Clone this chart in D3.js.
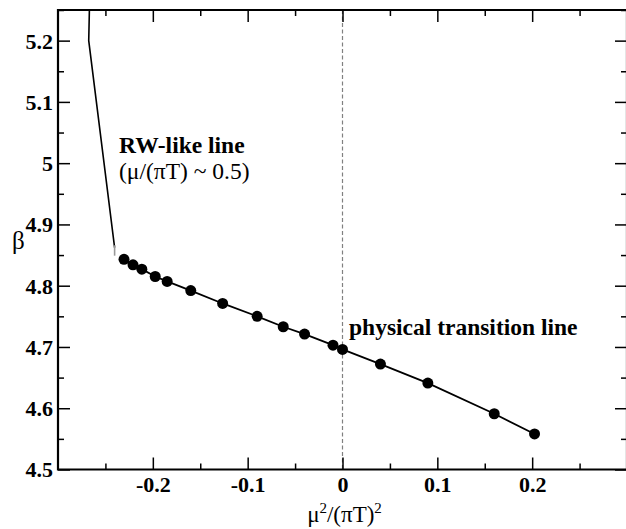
<!DOCTYPE html>
<html>
<head>
<meta charset="utf-8">
<script src="https://cdn.jsdelivr.net/npm/d3@7"></script>
</head>
<body style="margin:0;padding:0;background:#fff">
<svg id="chart" width="626" height="529" style="display:block"></svg>
<script>
// Transition line points: mu^2/(pi T)^2 and beta
const muSq = [-0.2304, -0.2209, -0.2116, -0.1975, -0.1849, -0.16, -0.1264, -0.09,
              -0.0625, -0.04, -0.01, 0, 0.04, 0.09, 0.16, 0.2025];
const betaVals = [4.843, 4.834, 4.827, 4.815, 4.807, 4.792, 4.771, 4.750,
                  4.733, 4.721, 4.703, 4.696, 4.672, 4.641, 4.591, 4.558];

// Roberge-Weiss-like line
const rwX = [-0.2669, -0.2676, -0.2403];
const rwBeta = [5.25, 5.2, 4.862];
const rwEndX = [-0.2403, -0.2403];
const rwEndBeta = [4.866, 4.849];

const xTickVals = [-0.2, -0.1, 0, 0.1, 0.2];
const xTickLabels = ["-0.2", "-0.1", "0", "0.1", "0.2"];
const yTickVals = [4.5, 4.6, 4.7, 4.8, 4.9, 5.0, 5.1, 5.2];
const yTickLabels = ["4.5", "4.6", "4.7", "4.8", "4.9", "5", "5.1", "5.2"];

const FONT = "serif";
const svg = d3.select("#chart");
const pLeft = 58, pRight = 627, pTop = 10, pBottom = 469.5;

const x = d3.scaleLinear().domain([-0.3, 0.3]).range([pLeft, pRight]);
const y = d3.scaleLinear().domain([4.5, 5.25]).range([pBottom, pTop]);

const xMinor = d3.range(-0.25, 0.3, 0.1).map(v => +v.toFixed(2));
const yMinor = d3.range(4.55, 5.25, 0.1).map(v => +v.toFixed(2));

// zero line
svg.append("line")
  .attr("x1", x(0)).attr("x2", x(0))
  .attr("y1", pTop).attr("y2", pBottom)
  .attr("stroke", "#808080").attr("stroke-width", 1.2)
  .attr("stroke-dasharray", "4,2.5");

// inward ticks on all four sides
function drawAxis(axisGen, transform, major, minor, labels) {
  const g = svg.append("g").attr("transform", transform);
  g.call(axisGen.tickValues(major).tickSize(-12).tickFormat(labels ? (d, i) => labels[i] : ""));
  g.attr("font-family", FONT).attr("font-size", 22).attr("font-weight", "bold");
  g.select(".domain").remove();
  g.selectAll(".tick line").attr("stroke", "#000").attr("stroke-width", 1.5);
  const gm = svg.append("g").attr("transform", transform);
  gm.call(axisGen.tickValues(minor).tickSize(-6).tickFormat(""));
  gm.select(".domain").remove();
  gm.selectAll(".tick line").attr("stroke", "#000").attr("stroke-width", 1.5);
  return g;
}

const gx = drawAxis(d3.axisBottom(x), `translate(0,${pBottom})`, xTickVals, xMinor, xTickLabels);
gx.selectAll(".tick text")
  .attr("y", 0).attr("dy", 0)
  .attr("transform", "translate(0,22.5)")
  .attr("fill", "#000")
  .attr("font-family", FONT).attr("font-size", 22).attr("font-weight", "bold");

drawAxis(d3.axisTop(x), `translate(0,${pTop})`, xTickVals, xMinor, null);

const gy = drawAxis(d3.axisLeft(y), `translate(${pLeft},0)`, yTickVals, yMinor, yTickLabels);
gy.selectAll(".tick text")
  .attr("x", -5).attr("dy", "0.34em")
  .attr("fill", "#000")
  .attr("font-family", FONT).attr("font-size", 22).attr("font-weight", "bold");

drawAxis(d3.axisRight(y), `translate(${pRight},0)`, yTickVals, yMinor, null);

// frame
svg.append("path")
  .attr("d", `M${pLeft},${pTop}H${pRight}V${pBottom}H${pLeft}Z`)
  .attr("fill", "none").attr("stroke", "#000").attr("stroke-width", 2.2);

// RW-like line
const line = d3.line().x(d => x(d[0])).y(d => y(d[1]));
svg.append("path")
  .datum(rwX.map((v, i) => [v, rwBeta[i]]))
  .attr("d", line)
  .attr("fill", "none").attr("stroke", "#000").attr("stroke-width", 1.6);
svg.append("path")
  .datum(rwEndX.map((v, i) => [v, rwEndBeta[i]]))
  .attr("d", line)
  .attr("fill", "none").attr("stroke", "#999").attr("stroke-width", 1.6);

// physical transition line
const pts = muSq.map((v, i) => [v, betaVals[i]]);
svg.append("path")
  .datum(pts)
  .attr("d", line)
  .attr("fill", "none").attr("stroke", "#000").attr("stroke-width", 1.8);
svg.append("g").selectAll("circle")
  .data(pts).join("circle")
  .attr("cx", d => x(d[0])).attr("cy", d => y(d[1]))
  .attr("r", 5.5).attr("fill", "#000");

// annotations
function label(xp, yp, size, bold, txt) {
  return svg.append("text").attr("x", xp).attr("y", yp)
    .attr("font-family", FONT)
    .attr("font-size", size)
    .attr("font-weight", bold ? "bold" : "normal")
    .text(txt);
}
label(119, 153, 23.5, true, "RW-like line");
label(119, 179, 23.5, false, "(μ/(πT) ~ 0.5)");
label(349, 335, 23.5, true, "physical transition line");

// axis titles
const xt = svg.append("text").attr("x", x(0) + 2).attr("y", 522)
  .attr("text-anchor", "middle")
  .attr("font-family", FONT).attr("font-size", 23);
xt.append("tspan").text("μ");
xt.append("tspan").attr("dy", -9).attr("font-size", 15).text("2");
xt.append("tspan").attr("dy", 9).text("/(πT)");
xt.append("tspan").attr("dy", -9).attr("font-size", 15).text("2");

label(12, 249, 25, false, "β");
</script>
</body>
</html>
